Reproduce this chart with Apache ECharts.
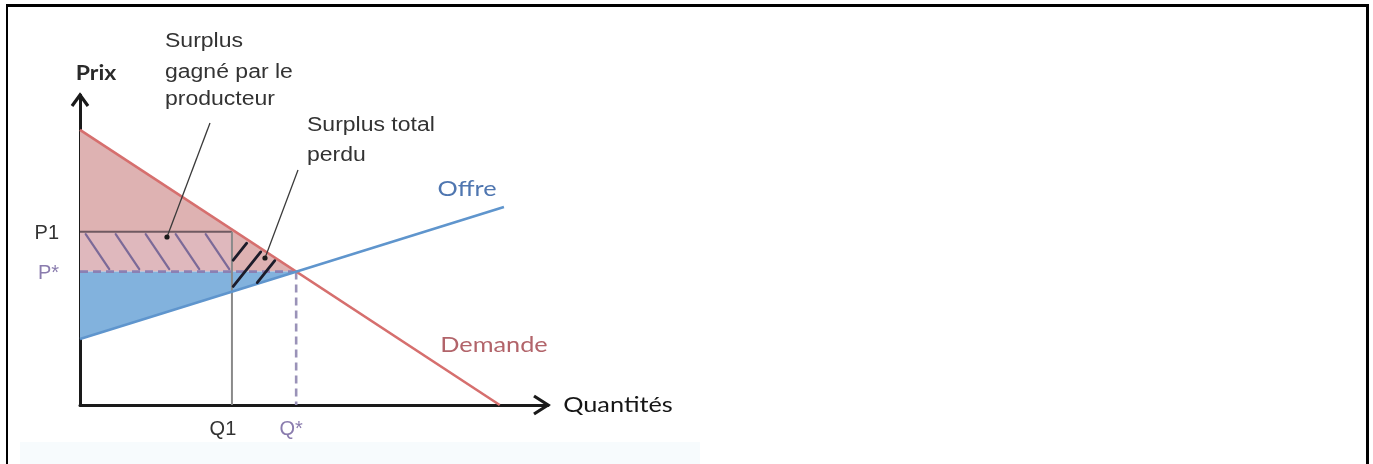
<!DOCTYPE html>
<html>
<head>
<meta charset="utf-8">
<script src="https://cdn.jsdelivr.net/npm/echarts@6/dist/echarts.min.js"></script>
<style>
  html, body { margin: 0; padding: 0; background: #ffffff; }
  #chart { width: 1373px; height: 464px; }
</style>
</head>
<body>
<div id="chart"></div>
<script>
// Demand and supply curves, end points as (quantity, price)
const demandQ = [0, 10];
const demandP = [10, 0];
const supplyQ = [0, 10.1];
const supplyP = [2.4, 7.2];

// Market equilibrium
const eqQ = 5.15;
const eqP = 4.85;

// Restricted quantity, the price it fetches, and the supply price at that quantity
const q1 = 3.62;
const p1 = 6.3;
const supplyAtQ1 = 4.12;

// Axis tick labels
const xTickValues = [q1, eqQ];
const xTickLabels = ['Q1', 'Q*'];
const yTickValues = [p1, eqP];
const yTickLabels = ['P1', 'P*'];

const zip = (a, b) => a.map((v, i) => [v, b[i]]);

// Surplus regions (polygon vertices in data space)
const consumerSurplus = [[0, demandP[0]], [0, eqP], [eqQ, eqP]];
const producerSurplus = [[0, eqP], [0, supplyP[0]], [eqQ, eqP]];
const transferArea = [[0, p1], [q1, p1], [q1, eqP], [0, eqP]];
const deadweightLoss = [[q1, p1], [q1, supplyAtQ1], [eqQ, eqP]];

// Clip an infinite line (p0 + t*d) against a convex polygon
function clipLine(p0, d, poly) {
  const cx = poly.reduce((s, p) => s + p[0], 0) / poly.length;
  const cy = poly.reduce((s, p) => s + p[1], 0) / poly.length;
  let tmin = -Infinity, tmax = Infinity;
  for (let i = 0; i < poly.length; i++) {
    const a = poly[i], b = poly[(i + 1) % poly.length];
    let nx = -(b[1] - a[1]), ny = b[0] - a[0];
    if (nx * (cx - a[0]) + ny * (cy - a[1]) < 0) { nx = -nx; ny = -ny; }
    const denom = nx * d[0] + ny * d[1];
    const num = nx * (p0[0] - a[0]) + ny * (p0[1] - a[1]);
    if (Math.abs(denom) < 1e-9) { if (num < 0) return null; continue; }
    const t = -num / denom;
    if (denom > 0) tmin = Math.max(tmin, t); else tmax = Math.min(tmax, t);
  }
  if (!(tmin < tmax)) return null;
  return [tmin, tmax];
}

// A filled region, optionally with diagonal hatching across it
function region(name, verts, fill, hatch, z) {
  return {
    type: 'custom',
    name: name,
    z: z,
    silent: true,
    data: verts,
    renderItem: function (params, api) {
      if (params.dataIndex !== 0) return null;
      const pts = verts.map(v => api.coord(v));
      const children = [];
      if (fill) {
        children.push({ type: 'polygon', shape: { points: pts }, style: { fill: fill } });
      }
      if (hatch) {
        const len = Math.hypot(hatch.dir[0], hatch.dir[1]);
        const d = [hatch.dir[0] / len, hatch.dir[1] / len];
        const v0 = pts[0];
        for (let k = -40; k <= 40; k++) {
          const p0 = [v0[0] + hatch.offset + k * hatch.spacing, v0[1]];
          const seg = clipLine(p0, d, pts);
          if (!seg) continue;
          const t0 = seg[0] + hatch.inset, t1 = seg[1] - hatch.inset;
          if (t1 - t0 < hatch.minLength) continue;
          children.push({
            type: 'line',
            shape: {
              x1: p0[0] + d[0] * t0, y1: p0[1] + d[1] * t0,
              x2: p0[0] + d[0] * t1, y2: p0[1] + d[1] * t1
            },
            style: { stroke: hatch.color, lineWidth: hatch.width, lineCap: 'round' }
          });
        }
      }
      return { type: 'group', children: children };
    }
  };
}

function guide(name, points, color, width, type, z) {
  return {
    type: 'line', name: name, data: points, symbol: 'none', silent: true, z: z,
    lineStyle: { color: color, width: width, type: type }
  };
}

const sans = '"Liberation Sans", Arial, sans-serif';
const humanist = 'Lato, "Open Sans", sans-serif';
const purple = '#8a7cae';

function tickFormatter(values, labels, key) {
  return function (v) {
    for (let i = 0; i < values.length; i++) {
      if (Math.abs(values[i] - v) < 1e-6) return '{' + key + i + '|' + labels[i] + '}';
    }
    return '';
  };
}

const chart = echarts.init(document.getElementById('chart'), null, { renderer: 'canvas' });

// Stretched text used for titles and annotations
function label(text, x, y, font, color, align) {
  return {
    type: 'text', x: x, y: y, scaleX: 1.15, silent: true, z: 50,
    style: { text: text, font: font, fill: color, align: align || 'left', verticalAlign: 'middle' }
  };
}

const option = {
  animation: false,
  backgroundColor: '#ffffff',
  grid: { left: 80, top: 95, width: 468, height: 310, containLabel: false },
  xAxis: {
    type: 'value', min: 0, max: 11.15,
    axisLine: { show: true, onZero: false, lineStyle: { color: '#1a1a1a', width: 3 } },
    axisTick: { show: false },
    splitLine: { show: false },
    axisLabel: {
      customValues: xTickValues,
      margin: 14,
      formatter: tickFormatter(xTickValues, xTickLabels, 'x'),
      rich: {
        x0: { fontFamily: sans, fontSize: 20, color: '#333333', padding: [0, 18, 0, 0] },
        x1: { fontFamily: sans, fontSize: 20, color: purple, padding: [0, 10, 0, 0] }
      }
    }
  },
  yAxis: {
    type: 'value', min: 0, max: 11.27,
    axisLine: { show: true, onZero: false, lineStyle: { color: '#1a1a1a', width: 3 } },
    axisTick: { show: false },
    splitLine: { show: false },
    axisLabel: {
      customValues: yTickValues,
      margin: 21,
      formatter: tickFormatter(yTickValues, yTickLabels, 'y'),
      rich: {
        y0: { fontFamily: sans, fontSize: 20, color: '#333333', padding: [4, 0, 0, 0] },
        y1: { fontFamily: sans, fontSize: 20, color: purple, padding: [4, 0, 0, 0] }
      }
    }
  },
  series: [
    region('Surplus du consommateur', consumerSurplus, '#deb2b2', null, 1),
    region('Surplus du producteur', producerSurplus, '#82b2dd', null, 1),
    region('Surplus gagné par le producteur', transferArea, 'rgba(226,200,214,0.3)',
      { dir: [25, 37], spacing: 30, offset: 4, inset: 3, minLength: 5, color: '#7c6a98', width: 2.2 }, 3),
    region('Surplus total perdu', deadweightLoss, null,
      { dir: [1, -1.25], spacing: 21, offset: 24, inset: 2, minLength: 12, color: '#1c1c2a', width: 2.8 }, 6),
    guide('P1', [[0, p1], [q1, p1]], '#6f5a62', 2, 'solid', 4),
    guide('Q1', [[q1, p1], [q1, 0]], '#8a8a8a', 2, 'solid', 4),
    guide('P*', [[0, eqP], [eqQ, eqP]], '#8b80b3', 2.6, [8, 5], 4),
    guide('Q*', [[eqQ, eqP], [eqQ, 0]], '#9a92b8', 2.6, [8, 5], 4),
    {
      type: 'line', name: 'Demande', data: zip(demandQ, demandP), symbol: 'none', silent: true, z: 5,
      lineStyle: { color: '#d66f6e', width: 2.6 }
    },
    {
      type: 'line', name: 'Offre', data: zip(supplyQ, supplyP), symbol: 'none', silent: true, z: 5,
      lineStyle: { color: '#5f95cd', width: 2.6 }
    }
  ],
  graphic: [
    // faint tint along the bottom of the diagram
    { type: 'rect', shape: { x: 20, y: 442, width: 680, height: 22 }, style: { fill: '#f7fbfd' }, z: -10, silent: true },
    // frame
    { type: 'rect', shape: { x: 6, y: 4, width: 1363, height: 3 }, style: { fill: '#000000' }, z: 100, silent: true },
    { type: 'rect', shape: { x: 6, y: 4, width: 2, height: 460 }, style: { fill: '#000000' }, z: 100, silent: true },
    { type: 'rect', shape: { x: 1366, y: 4, width: 3, height: 460 }, style: { fill: '#000000' }, z: 100, silent: true },
    // axis arrow heads
    { type: 'polyline', shape: { points: [[72, 106], [80, 95], [88, 106]] },
      style: { stroke: '#1a1a1a', lineWidth: 3.2, fill: null, lineJoin: 'miter' }, z: 60, silent: true },
    { type: 'polyline', shape: { points: [[534, 396], [548, 405], [534, 414]] },
      style: { stroke: '#1a1a1a', lineWidth: 3.2, fill: null, lineJoin: 'miter' }, z: 60, silent: true },
    // axis titles and curve names
    label('Prix', 96, 74, 'bold 20px ' + humanist, '#2a2a2a', 'center'),
    label('Quantités', 618, 405, '22px ' + humanist, '#161616', 'center'),
    label('Offre', 467, 189, '22px ' + humanist, '#4f76b0', 'center'),
    label('Demande', 494, 345, '22px ' + humanist, '#b2646a', 'center'),
    // annotations
    label('Surplus', 165, 41, '20px ' + sans, '#333333'),
    label('gagné par le', 165, 72, '20px ' + sans, '#333333'),
    label('producteur', 165, 99, '20px ' + sans, '#333333'),
    label('Surplus total', 307, 125, '20px ' + sans, '#333333'),
    label('perdu', 307, 155, '20px ' + sans, '#333333'),
    // leader lines
    { type: 'line', shape: { x1: 210, y1: 123, x2: 167, y2: 237 }, style: { stroke: '#3a3a3a', lineWidth: 1.3 }, z: 60, silent: true },
    { type: 'circle', shape: { cx: 167, cy: 237, r: 2.6 }, style: { fill: '#1a1a1a' }, z: 60, silent: true },
    { type: 'line', shape: { x1: 298, y1: 170, x2: 265, y2: 258 }, style: { stroke: '#3a3a3a', lineWidth: 1.3 }, z: 60, silent: true },
    { type: 'circle', shape: { cx: 265, cy: 258, r: 2.6 }, style: { fill: '#1a1a1a' }, z: 60, silent: true }
  ]
};

chart.setOption(option);
</script>
</body>
</html>
